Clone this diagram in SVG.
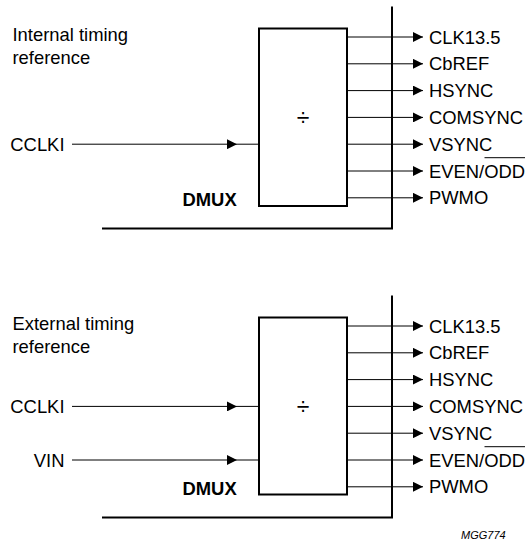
<svg xmlns="http://www.w3.org/2000/svg" width="529" height="546" viewBox="0 0 529 546">
<style>
text{font-family:"Liberation Sans",Arial,sans-serif;font-size:18.4px;fill:#000}
.b{font-weight:bold}
.div{font-size:23px;text-anchor:middle}
.box{fill:#fff;stroke:#000;stroke-width:2}
.bus{fill:none;stroke:#000;stroke-width:2}
.w{fill:none;stroke:#000;stroke-width:1}
.ol{stroke:#000;stroke-width:1}
</style>
<defs>
<marker id="ah" markerUnits="userSpaceOnUse" markerWidth="10" markerHeight="10" refX="9" refY="4.5" orient="auto" viewBox="0 0 9 9">
<path d="M0,0 L9,4.5 L0,9 Z" fill="#000"/>
</marker>
</defs>

<g id="top-caption">
<text x="12.5" y="41">Internal timing</text>
<text x="12.5" y="63.5">reference</text>
</g>
<g id="top-dmux-frame">
<path class="bus" d="M102,228.5 H392 V6.5"/>
<text class="b" x="182.5" y="206">DMUX</text>
</g>
<g id="top-divider">
<rect class="box" x="259" y="28.5" width="88" height="177.5"/>
<text class="div" x="303" y="126">÷</text>
</g>
<g id="top-inputs">
<text x="64.5" y="150.7" text-anchor="end">CCLKI</text>
</g>
<g id="top-outputs">
<text x="429" y="43.5">CLK13.5</text>
<text x="429" y="70.3">CbREF</text>
<text x="429" y="97.1">HSYNC</text>
<text x="429" y="123.9">COMSYNC</text>
<text x="429" y="150.7">VSYNC</text>
<text x="429" y="177.5">EVEN/ODD</text>
<line class="ol" x1="484.5" y1="157.7" x2="525" y2="157.7"/>
<text x="429" y="204.3">PWMO</text>
</g>

<g id="bottom-caption">
<text x="12.5" y="330">External timing</text>
<text x="12.5" y="352.5">reference</text>
</g>
<g id="bottom-dmux-frame">
<path class="bus" d="M102,517.5 H392 V295.5"/>
<text class="b" x="182.5" y="495">DMUX</text>
</g>
<g id="bottom-divider">
<rect class="box" x="259" y="317.5" width="88" height="177"/>
<text class="div" x="303" y="414.5">÷</text>
</g>
<g id="bottom-inputs">
<text x="64.5" y="412.9" text-anchor="end">CCLKI</text>
<text x="64.5" y="466.5" text-anchor="end">VIN</text>
</g>
<g id="bottom-outputs">
<text x="429" y="332.5">CLK13.5</text>
<text x="429" y="359.3">CbREF</text>
<text x="429" y="386.1">HSYNC</text>
<text x="429" y="412.9">COMSYNC</text>
<text x="429" y="439.7">VSYNC</text>
<text x="429" y="466.5">EVEN/ODD</text>
<line class="ol" x1="484.5" y1="446.7" x2="525" y2="446.7"/>
<text x="429" y="493.3">PWMO</text>
</g>

<g id="connectors">
<path class="w" d="M72,144.2 L237,144.2 L259,144.2" marker-mid="url(#ah)"/>
<path class="w" d="M347,37 H423" marker-end="url(#ah)"/>
<path class="w" d="M347,63.8 H423" marker-end="url(#ah)"/>
<path class="w" d="M347,90.6 H423" marker-end="url(#ah)"/>
<path class="w" d="M347,117.4 H423" marker-end="url(#ah)"/>
<path class="w" d="M347,144.2 H423" marker-end="url(#ah)"/>
<path class="w" d="M347,171 H423" marker-end="url(#ah)"/>
<path class="w" d="M347,197.8 H423" marker-end="url(#ah)"/>

<path class="w" d="M72,406.4 L237,406.4 L259,406.4" marker-mid="url(#ah)"/>
<path class="w" d="M72,460 L237,460 L259,460" marker-mid="url(#ah)"/>
<path class="w" d="M347,326 H423" marker-end="url(#ah)"/>
<path class="w" d="M347,352.8 H423" marker-end="url(#ah)"/>
<path class="w" d="M347,379.6 H423" marker-end="url(#ah)"/>
<path class="w" d="M347,406.4 H423" marker-end="url(#ah)"/>
<path class="w" d="M347,433.2 H423" marker-end="url(#ah)"/>
<path class="w" d="M347,460 H423" marker-end="url(#ah)"/>
<path class="w" d="M347,486.8 H423" marker-end="url(#ah)"/>
</g>

<g id="figure-code">
<text x="461" y="538.5" style="font-size:11px;font-style:italic">MGG774</text>
</g>
</svg>
